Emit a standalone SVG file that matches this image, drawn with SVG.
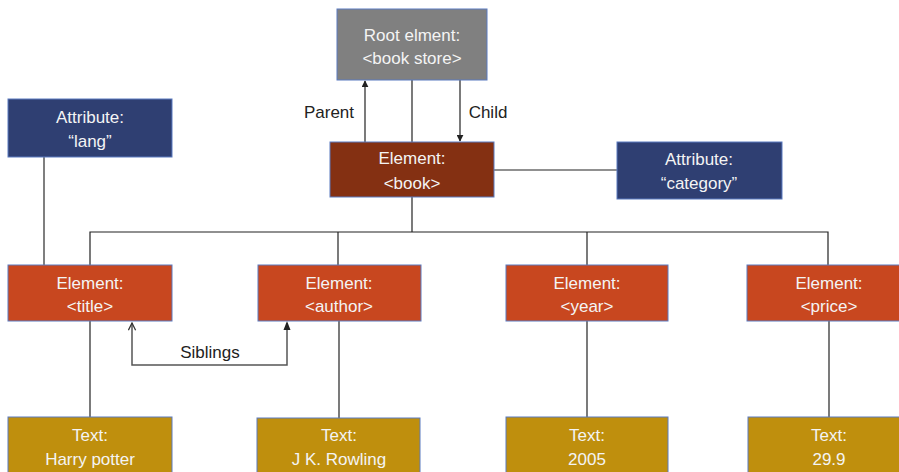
<svg xmlns="http://www.w3.org/2000/svg" width="899" height="472" viewBox="0 0 899 472">
<defs>
<style>
.box{stroke:#5a7ac0;stroke-width:1}
.root{fill:#808080}
.book{fill:#843012}
.el{fill:#c8471f}
.attr{fill:#2f3f72}
.txt{fill:#bf8f0d}
.t{font-family:"Liberation Sans",Arial,sans-serif;font-size:17px;fill:#f4f4f4;text-anchor:middle}
.lbl{font-family:"Liberation Sans",Arial,sans-serif;font-size:17px;fill:#222;text-anchor:middle}
.ln{stroke:#222;stroke-width:1.2;fill:none}
.gl{stroke:#555;stroke-width:1.5;fill:none}
</style>
<marker id="ah" viewBox="0 0 10 10" refX="9" refY="5" markerWidth="7" markerHeight="7" orient="auto-start-reverse" markerUnits="userSpaceOnUse">
<path d="M0,0 L10,5 L0,10 z" fill="#222"/>
</marker>
<marker id="oh" viewBox="0 0 10 10" refX="9" refY="5" markerWidth="9" markerHeight="9" orient="auto" markerUnits="userSpaceOnUse">
<path d="M1,1 L9,5 L1,9" fill="none" stroke="#333" stroke-width="1.4"/>
</marker>
</defs>
<rect width="899" height="472" fill="#ffffff"/>
<g id="connectors">
<line class="ln" x1="365" y1="142" x2="365" y2="81" marker-end="url(#ah)"/>
<line class="ln" x1="412" y1="80" x2="412" y2="142"/>
<line class="ln" x1="460" y1="80" x2="460" y2="141" marker-end="url(#ah)"/>
<line class="ln" x1="494" y1="170" x2="617" y2="170"/>
<line class="ln" x1="412" y1="197" x2="412" y2="232"/>
<polyline class="ln" points="90,265 90,232 828,232 828,265"/>
<line class="ln" x1="338" y1="232" x2="338" y2="265"/>
<line class="ln" x1="587" y1="232" x2="587" y2="265"/>
<line class="gl" x1="44" y1="157" x2="44" y2="265"/>
<line class="ln" x1="90" y1="321" x2="90" y2="417"/>
<line class="ln" x1="339" y1="321" x2="339" y2="418"/>
<line class="ln" x1="587" y1="321" x2="587" y2="417"/>
<line class="ln" x1="829" y1="321" x2="829" y2="417"/>
<polyline class="gl" points="287,323 287,365 132,365 132,323" marker-end="url(#oh)"/>
<polygon points="287,321 283.5,330 290.5,330" fill="#222"/>
<text class="lbl" x="329" y="118">Parent</text>
<text class="lbl" x="488" y="118">Child</text>
<text class="lbl" x="210" y="358">Siblings</text>
</g>
<g id="root">
<rect class="box root" x="337" y="9" width="150" height="71"/>
<text class="t" x="412" y="41">Root elment:</text>
<text class="t" x="412" y="64">&lt;book store&gt;</text>
</g>
<g id="book">
<rect class="box book" x="330" y="142" width="164" height="55"/>
<text class="t" x="412" y="164">Element:</text>
<text class="t" x="412" y="189">&lt;book&gt;</text>
</g>
<g id="attr-lang">
<rect class="box attr" x="8" y="99" width="164" height="58"/>
<text class="t" x="90" y="123">Attribute:</text>
<text class="t" x="90" y="147">“lang”</text>
</g>
<g id="attr-category">
<rect class="box attr" x="617" y="142" width="165" height="57"/>
<text class="t" x="699" y="165">Attribute:</text>
<text class="t" x="699" y="189">“category”</text>
</g>
<g id="el-title">
<rect class="box el" x="8" y="265" width="164" height="56"/>
<text class="t" x="90" y="289">Element:</text>
<text class="t" x="90" y="312">&lt;title&gt;</text>
</g>
<g id="el-author">
<rect class="box el" x="258" y="265" width="163" height="56"/>
<text class="t" x="339" y="289">Element:</text>
<text class="t" x="339" y="312">&lt;author&gt;</text>
</g>
<g id="el-year">
<rect class="box el" x="506" y="265" width="162" height="56"/>
<text class="t" x="587" y="289">Element:</text>
<text class="t" x="587" y="312">&lt;year&gt;</text>
</g>
<g id="el-price">
<rect class="box el" x="747" y="265" width="163" height="56"/>
<text class="t" x="829" y="289">Element:</text>
<text class="t" x="829" y="312">&lt;price&gt;</text>
</g>
<g id="text-title">
<rect class="box txt" x="8" y="417" width="164" height="60"/>
<text class="t" x="90" y="441">Text:</text>
<text class="t" x="90" y="465">Harry potter</text>
</g>
<g id="text-author">
<rect class="box txt" x="257" y="418" width="163" height="60"/>
<text class="t" x="339" y="441">Text:</text>
<text class="t" x="339" y="465">J K. Rowling</text>
</g>
<g id="text-year">
<rect class="box txt" x="506" y="417" width="162" height="60"/>
<text class="t" x="587" y="441">Text:</text>
<text class="t" x="587" y="465">2005</text>
</g>
<g id="text-price">
<rect class="box txt" x="748" y="417" width="163" height="60"/>
<text class="t" x="829" y="441">Text:</text>
<text class="t" x="829" y="465">29.9</text>
</g>
</svg>
